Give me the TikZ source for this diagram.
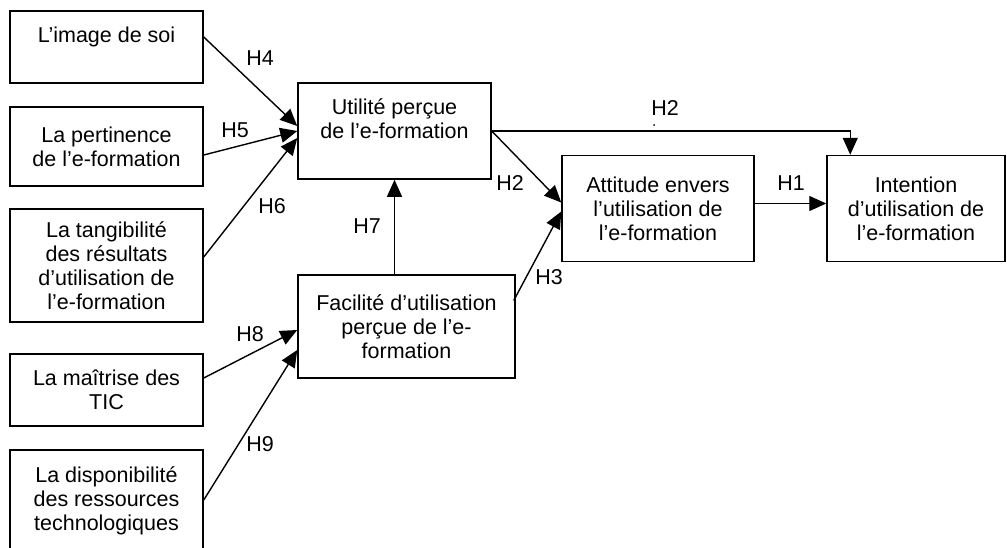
\documentclass[tikz,border=0pt]{standalone}
\usepackage{fontspec}
\setmainfont{Liberation Sans}
\usetikzlibrary{calc,arrows.meta}

\begin{document}
\begin{tikzpicture}[x=1pt,y=-1pt,
    every node/.style={font=\fontsize{21.5}{24}\selectfont},
    facteur/.style={draw,line width=1.5pt,rectangle,align=center,inner sep=0pt},
    lien/.style={line width=1.4pt,-{Triangle[length=17pt,width=15pt]}}]
    \clip (0,0) rectangle (1007,547);

    % Variables externes
    \node[facteur,minimum width=193pt,minimum height=72pt] (img) at (106.5,47) {L’image de soi\\[0pt]~};
    \node[facteur,minimum width=193pt,minimum height=79pt] (pert) at (106.5,146.5) {La pertinence\\de l’e-formation};
    \node[facteur,minimum width=193pt,minimum height=113pt] (tang) at (106.5,265.5) {La tangibilité\\des résultats\\d’utilisation de\\l’e-formation};
    \node[facteur,minimum width=193pt,minimum height=72pt] (tic) at (106.5,390) {La maîtrise des\\TIC};
    \node[facteur,minimum width=193pt,minimum height=122pt] (res) at (106.5,511) {La disponibilité\\des ressources\\technologiques\\~};

    % Variables du modele
    \node[facteur,minimum width=193pt,minimum height=96pt] (util) at (394.5,131) {Utilité perçue\\de l’e-formation\\~};
    \node[facteur,minimum width=217pt,minimum height=103pt] (facil) at (406.5,326.5) {Facilité d’utilisation\\perçue de l’e-\\formation};
    \node[facteur,minimum width=192pt,minimum height=106pt] (att) at (658,208.5) {Attitude envers\\l’utilisation de\\l’e-formation};
    \node[facteur,minimum width=178pt,minimum height=106pt] (int) at (916,208.5) {Intention\\d’utilisation de\\l’e-formation};

    % Hypotheses
    \draw[lien] ($(img.east)+(0,-10)$) -- ($(util.west)+(0,-5)$);
    \draw[lien] ($(pert.east)+(0,8.5)$) -- (util.west);
    \draw[lien] ($(tang.east)+(0,-8.5)$) -- ($(util.west)+(0,7)$);
    \draw[lien] (util.south |- facil.north) -- (util.south);
    \draw[lien] (util.east) -| ([xshift=24pt]int.north west);
    \draw[lien] (util.east) -- ($(att.west)+(0,-6)$);
    \draw[lien] ($(facil.east)+(-2,-26)$) -- ($(att.west)+(0,3)$);
    \draw[lien] ($(att.east)+(0,-5)$) -- ($(int.west)+(0,-5)$);
    \draw[lien] ($(tic.east)+(0,-12)$) -- ($(facil.west)+(0,3.5)$);
    \draw[lien] ($(res.east)+(0,-11)$) -- ($(facil.west)+(0,23.5)$);

    % Etiquettes
    \node (h4) at (260,58) {H4};
    \node (h5) at (235,130) {H5};
    \node (h6) at (272,206) {H6};
    \node (h7) at (367,226) {H7};
    \node (h2a) at (510,183) {H2};
    \node (h2b) at (665,108) {H2};
    \fill (654,125) circle (1pt);
    \node (h3) at (549,277) {H3};
    \node (h1) at (791,183) {H1};
    \node (h8) at (250,334) {H8};
    \node (h9) at (260,444) {H9};
\end{tikzpicture}
\end{document}
